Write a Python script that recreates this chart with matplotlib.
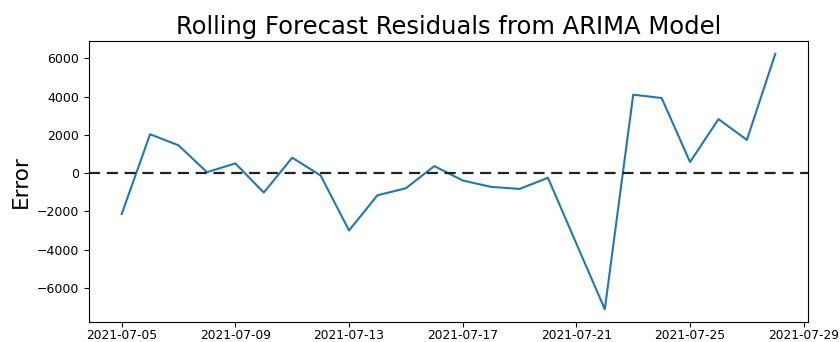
import matplotlib
matplotlib.use("Agg")
import matplotlib.pyplot as plt
import matplotlib.dates as mdates
import numpy as np
import pandas as pd

# Daily residuals of the rolling ARIMA forecast
dates = pd.date_range("2021-07-05", "2021-07-28", freq="D")
residuals = [
    -2140, 2035, 1455, 50, 510, -1017, 807, -122,
    -3000, -1158, -790, 368, -385, -720, -825, -245,
    -3690, -7120, 4105, 3930, 580, 2825, 1740, 6245,
]

fig = plt.figure(figsize=(8.4, 3.42), dpi=100)
ax = fig.add_axes([89 / 840, 1 - 322 / 342, (808 - 89) / 840, (322 - 41) / 342])

ax.plot(dates, residuals, color="#1f77b4", linewidth=1.5)
ax.axhline(0, color="#222222", linestyle="--", linewidth=1.6, dashes=(5, 3))

ax.set_title("Rolling Forecast Residuals from ARIMA Model", fontsize=17.5, pad=5)
ax.set_ylabel("Error", fontsize=15.5, labelpad=4)
ax.xaxis.set_major_locator(mdates.DayLocator(bymonthday=[5, 9, 13, 17, 21, 25, 29]))
ax.xaxis.set_major_formatter(mdates.DateFormatter("%Y-%m-%d"))
ax.tick_params(axis="x", labelsize=8.8, pad=1.5)
ax.tick_params(axis="y", labelsize=9)

fig.savefig("out.png", dpi=100)
